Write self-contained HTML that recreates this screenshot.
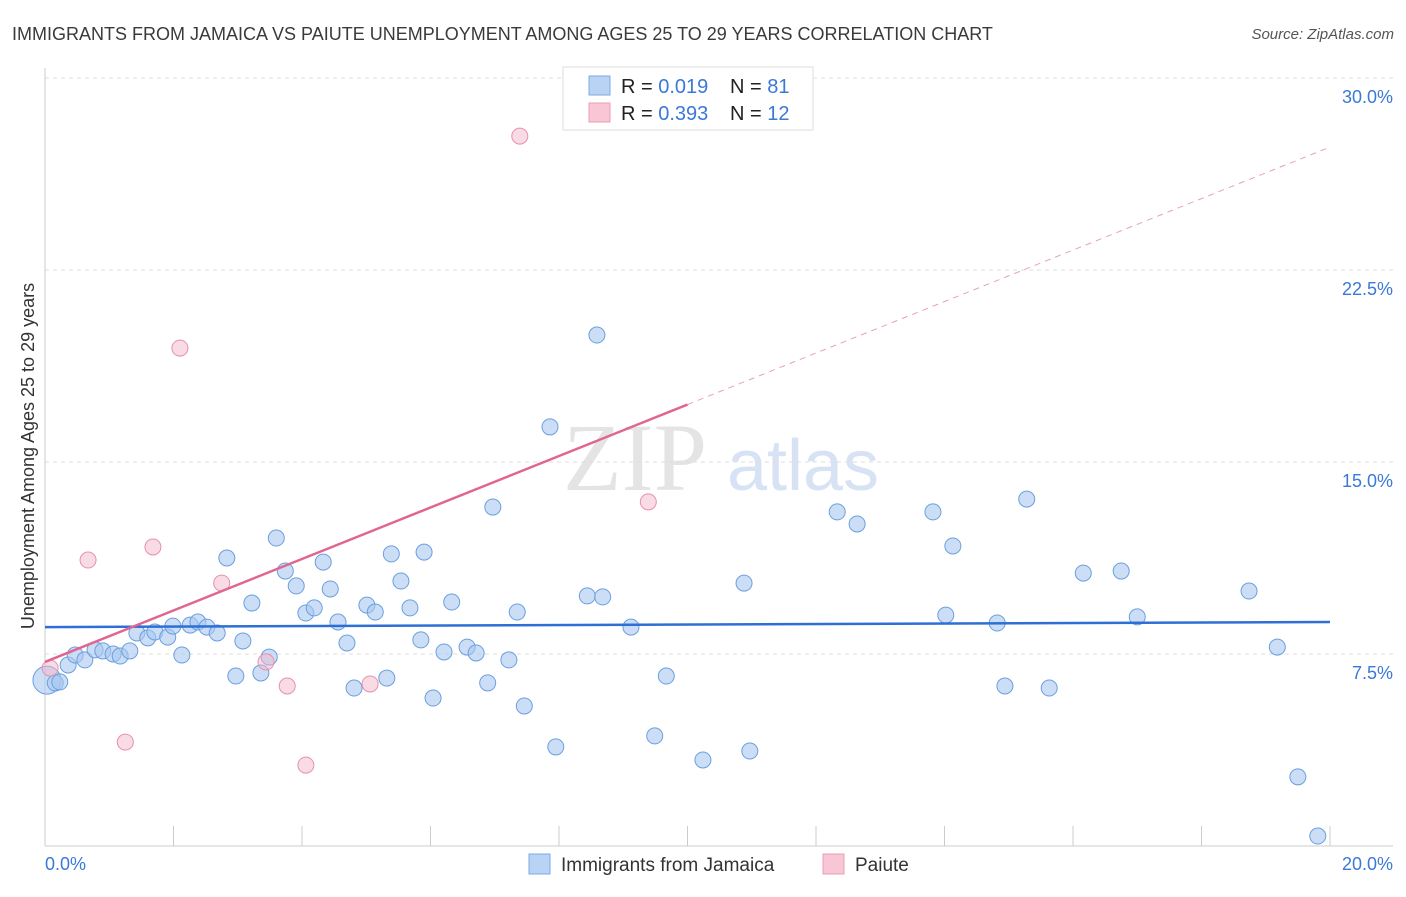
<!DOCTYPE html>
<html><head><meta charset="utf-8"><style>
body{margin:0;background:#fff;font-family:"Liberation Sans",sans-serif;}
</style></head><body>
<svg id="c" width="1406" height="892" xmlns="http://www.w3.org/2000/svg" font-family="Liberation Sans, sans-serif">
<text x="12" y="40" font-size="18" fill="#3a3a3a">IMMIGRANTS FROM JAMAICA VS PAIUTE UNEMPLOYMENT AMONG AGES 25 TO 29 YEARS CORRELATION CHART</text>
<text x="1394" y="39" font-size="15" fill="#555" font-style="italic" text-anchor="end">Source: ZipAtlas.com</text>
<g>
<text x="635" y="490" font-size="96" fill="#e4e4e4" font-family="Liberation Serif, serif" text-anchor="middle">ZIP</text>
<text x="803" y="490" font-size="72" fill="#d7e3f4" text-anchor="middle">atlas</text>
</g>
<g id="grid"></g><g id="axes"></g><g id="marks"></g>
<text transform="translate(34,456) rotate(-90)" font-size="18" fill="#333" text-anchor="middle">Unemployment Among Ages 25 to 29 years</text>
<g>
<rect x="563" y="67" width="250" height="63" fill="#fff" stroke="#ddd"/>
<rect x="589" y="76" width="21" height="19" fill="#b9d3f5" stroke="#7fa9e3"/>
<rect x="589" y="103" width="21" height="19" fill="#f9c6d6" stroke="#ec9db6"/>
<text x="621" y="93" font-size="20" fill="#222">R = <tspan fill="#3b78d8">0.019</tspan></text>
<text x="730" y="93" font-size="20" fill="#222">N = <tspan fill="#3b78d8">81</tspan></text>
<text x="621" y="120" font-size="20" fill="#222">R = <tspan fill="#3b78d8">0.393</tspan></text>
<text x="730" y="120" font-size="20" fill="#222">N = <tspan fill="#3b78d8">12</tspan></text>
</g>
<g>
<rect x="529" y="854" width="21" height="20" fill="#b9d3f5" stroke="#7fa9e3"/>
<text x="561" y="871" font-size="19" fill="#333">Immigrants from Jamaica</text>
<rect x="823" y="854" width="21" height="20" fill="#f9c6d6" stroke="#ec9db6"/>
<text x="855" y="871" font-size="19" fill="#333">Paiute</text>
</g>
</svg>
<script>
const yTicks=[7.5,15,22.5,30];
const yTickLabels=["7.5%","15.0%","22.5%","30.0%"];
const xTicks=[0,2,4,6,8,10,12,14,16,18,20];
const blueX=[0.03,0.16,0.23,0.36,0.47,0.62,0.78,0.90,1.06,1.17,1.32,1.43,1.60,1.71,1.91,1.99,2.13,2.26,2.38,2.52,2.68,2.83,2.97,3.08,3.22,3.36,3.49,3.60,3.74,3.91,4.06,4.19,4.33,4.44,4.56,4.70,4.81,5.01,5.14,5.32,5.39,5.54,5.68,5.85,5.90,6.04,6.21,6.33,6.57,6.71,6.89,6.97,7.22,7.35,7.46,7.86,7.95,8.44,8.59,8.68,9.12,9.49,9.67,10.24,10.88,10.97,12.33,12.64,13.82,14.02,14.13,14.82,14.94,15.28,15.63,16.16,16.75,17.00,18.74,19.18,19.50,19.81];
const blueY=[6.48,6.37,6.41,7.07,7.46,7.27,7.66,7.62,7.50,7.42,7.62,8.32,8.13,8.36,8.16,8.59,7.46,8.63,8.75,8.55,8.32,11.25,6.64,8.01,9.49,6.76,7.38,12.03,10.74,10.16,9.10,9.30,11.09,10.04,8.75,7.93,6.17,9.41,9.14,6.56,11.41,10.35,9.30,8.05,11.48,5.78,7.58,9.53,7.77,7.54,6.37,13.24,7.27,9.14,5.47,16.37,3.87,9.77,19.96,9.73,8.55,4.30,6.64,3.36,10.27,3.71,13.05,12.58,13.05,9.02,11.72,8.71,6.25,13.55,6.17,10.66,10.74,8.95,9.96,7.77,2.70,0.39];
const pinkX=[0.08,0.67,1.25,1.68,2.10,2.75,3.44,3.77,4.06,5.06,7.39,9.39];
const pinkY=[6.95,11.17,4.06,11.68,19.45,10.27,7.19,6.25,3.16,6.33,27.73,13.44];
const blueTrend=[8.55,8.75];
const pinkTrend=[7.19,27.3];
const NS="http://www.w3.org/2000/svg";
const X=v=>45+v*64.25, Y=v=>846-v*25.6;
function mk(p,t,a){const e=document.createElementNS(NS,t);for(const k in a)e.setAttribute(k,a[k]);p.appendChild(e);return e;}
const grid=document.getElementById('grid'),axes=document.getElementById('axes'),marks=document.getElementById('marks');
yTicks.forEach((t,i)=>{
 const l=mk(grid,'line',{x1:45,x2:1393,y1:Y(t),y2:Y(t),stroke:'#ddd','stroke-dasharray':'4,4'});
 
 const tx=mk(axes,'text',{x:1393,y:Y(t)+25,'font-size':18,fill:'#3b78d8','text-anchor':'end'});tx.textContent=yTickLabels[i];
 
});
const ax=mk(axes,'line',{x1:45,x2:45,y1:68,y2:846,stroke:'#ccc'});

const bx=mk(axes,'line',{x1:45,x2:1393,y1:846,y2:846,stroke:'#ccc'});

xTicks.forEach(t=>{const l=mk(axes,'line',{x1:X(t),x2:X(t),y1:826,y2:846,stroke:'#ccc'});
 });
let t0=mk(axes,'text',{x:45,y:870,'font-size':18,fill:'#3b78d8'});t0.textContent='0.0%';

let t1=mk(axes,'text',{x:1393,y:870,'font-size':18,fill:'#3b78d8','text-anchor':'end'});t1.textContent='20.0%';

blueX.forEach((v,i)=>{const c=mk(marks,'circle',{cx:X(v),cy:Y(blueY[i]),r:i==0?14:8,fill:'rgba(168,200,240,0.6)',stroke:'#6a9fe0','stroke-width':1});
 });
pinkX.forEach((v,i)=>{const c=mk(marks,'circle',{cx:X(v),cy:Y(pinkY[i]),r:8,fill:'rgba(244,184,203,0.5)',stroke:'#e890ab','stroke-width':1});
 });
const bl=mk(marks,'line',{x1:X(0),y1:Y(blueTrend[0]),x2:X(20),y2:Y(blueTrend[1]),stroke:'#2e6fd6','stroke-width':2.5});

const pm=(pinkTrend[0]+pinkTrend[1])/2;
const pl=mk(marks,'line',{x1:X(0),y1:Y(pinkTrend[0]),x2:X(10),y2:Y(pm),stroke:'#e0668f','stroke-width':2.5});

const pd=mk(marks,'line',{x1:X(10),y1:Y(pm),x2:X(20),y2:Y(pinkTrend[1]),stroke:'#e8a0b8','stroke-width':1,'stroke-dasharray':'6,5'});

</script>
</body></html>
